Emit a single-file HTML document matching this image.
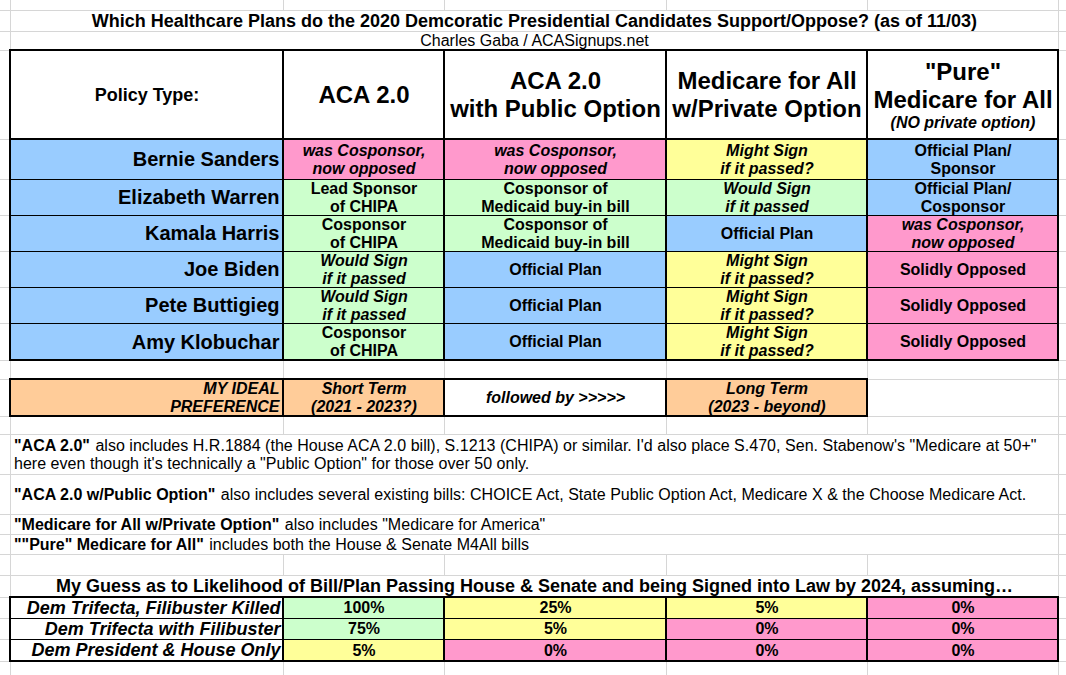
<!DOCTYPE html>
<html><head><meta charset="utf-8"><style>
html,body{margin:0;padding:0;background:#fff}
body{width:1066px;height:675px;position:relative;overflow:hidden;font-family:"Liberation Sans",sans-serif;color:#000}
body>div{position:absolute}
.t{white-space:pre;}
.note{letter-spacing:0.03px}
.note b{letter-spacing:0}
.sp{margin-left:1px}
</style></head><body>
<div style="left:10px;top:0px;width:1px;height:675px;background:#d6d6d6"></div>
<div style="left:283px;top:0px;width:1px;height:675px;background:#d6d6d6"></div>
<div style="left:444px;top:0px;width:1px;height:675px;background:#d6d6d6"></div>
<div style="left:666px;top:0px;width:1px;height:675px;background:#d6d6d6"></div>
<div style="left:867px;top:0px;width:1px;height:675px;background:#d6d6d6"></div>
<div style="left:1058px;top:0px;width:1px;height:675px;background:#d6d6d6"></div>
<div style="left:0px;top:10px;width:1066px;height:1px;background:#d6d6d6"></div>
<div style="left:0px;top:31px;width:1066px;height:1px;background:#d6d6d6"></div>
<div style="left:0px;top:50px;width:1066px;height:1px;background:#d6d6d6"></div>
<div style="left:0px;top:139px;width:1066px;height:1px;background:#d6d6d6"></div>
<div style="left:0px;top:179px;width:1066px;height:1px;background:#d6d6d6"></div>
<div style="left:0px;top:215px;width:1066px;height:1px;background:#d6d6d6"></div>
<div style="left:0px;top:251px;width:1066px;height:1px;background:#d6d6d6"></div>
<div style="left:0px;top:287px;width:1066px;height:1px;background:#d6d6d6"></div>
<div style="left:0px;top:323px;width:1066px;height:1px;background:#d6d6d6"></div>
<div style="left:0px;top:360px;width:1066px;height:1px;background:#d6d6d6"></div>
<div style="left:0px;top:379px;width:1066px;height:1px;background:#d6d6d6"></div>
<div style="left:0px;top:416px;width:1066px;height:1px;background:#d6d6d6"></div>
<div style="left:0px;top:434px;width:1066px;height:1px;background:#d6d6d6"></div>
<div style="left:0px;top:474px;width:1066px;height:1px;background:#d6d6d6"></div>
<div style="left:0px;top:514px;width:1066px;height:1px;background:#d6d6d6"></div>
<div style="left:0px;top:534px;width:1066px;height:1px;background:#d6d6d6"></div>
<div style="left:0px;top:554px;width:1066px;height:1px;background:#d6d6d6"></div>
<div style="left:0px;top:575px;width:1066px;height:1px;background:#d6d6d6"></div>
<div style="left:0px;top:597px;width:1066px;height:1px;background:#d6d6d6"></div>
<div style="left:0px;top:618px;width:1066px;height:1px;background:#d6d6d6"></div>
<div style="left:0px;top:639px;width:1066px;height:1px;background:#d6d6d6"></div>
<div style="left:0px;top:661px;width:1066px;height:1px;background:#d6d6d6"></div>
<div style="left:11px;top:11px;width:1047px;height:20px;background:#fff"></div>
<div style="left:11px;top:32px;width:1047px;height:18px;background:#fff"></div>
<div style="left:11px;top:435px;width:1047px;height:39px;background:#fff"></div>
<div style="left:11px;top:475px;width:1047px;height:39px;background:#fff"></div>
<div style="left:11px;top:515px;width:1047px;height:19px;background:#fff"></div>
<div style="left:11px;top:535px;width:1047px;height:19px;background:#fff"></div>
<div style="left:11px;top:576px;width:1047px;height:21px;background:#fff"></div>
<div style="left:11px;top:51px;width:1047px;height:88px;background:#fff"></div>
<div style="left:10px;top:139px;width:273px;height:40px;background:#99ccff"></div>
<div style="left:283px;top:139px;width:161px;height:40px;background:#ff99cc"></div>
<div style="left:444px;top:139px;width:222px;height:40px;background:#ff99cc"></div>
<div style="left:666px;top:139px;width:201px;height:40px;background:#ffff99"></div>
<div style="left:867px;top:139px;width:191px;height:40px;background:#99ccff"></div>
<div style="left:10px;top:179px;width:273px;height:36px;background:#99ccff"></div>
<div style="left:283px;top:179px;width:161px;height:36px;background:#ccffcc"></div>
<div style="left:444px;top:179px;width:222px;height:36px;background:#ccffcc"></div>
<div style="left:666px;top:179px;width:201px;height:36px;background:#ccffcc"></div>
<div style="left:867px;top:179px;width:191px;height:36px;background:#99ccff"></div>
<div style="left:10px;top:215px;width:273px;height:36px;background:#99ccff"></div>
<div style="left:283px;top:215px;width:161px;height:36px;background:#ccffcc"></div>
<div style="left:444px;top:215px;width:222px;height:36px;background:#ccffcc"></div>
<div style="left:666px;top:215px;width:201px;height:36px;background:#99ccff"></div>
<div style="left:867px;top:215px;width:191px;height:36px;background:#ff99cc"></div>
<div style="left:10px;top:251px;width:273px;height:36px;background:#99ccff"></div>
<div style="left:283px;top:251px;width:161px;height:36px;background:#ccffcc"></div>
<div style="left:444px;top:251px;width:222px;height:36px;background:#99ccff"></div>
<div style="left:666px;top:251px;width:201px;height:36px;background:#ffff99"></div>
<div style="left:867px;top:251px;width:191px;height:36px;background:#ff99cc"></div>
<div style="left:10px;top:287px;width:273px;height:36px;background:#99ccff"></div>
<div style="left:283px;top:287px;width:161px;height:36px;background:#ccffcc"></div>
<div style="left:444px;top:287px;width:222px;height:36px;background:#99ccff"></div>
<div style="left:666px;top:287px;width:201px;height:36px;background:#ffff99"></div>
<div style="left:867px;top:287px;width:191px;height:36px;background:#ff99cc"></div>
<div style="left:10px;top:323px;width:273px;height:37px;background:#99ccff"></div>
<div style="left:283px;top:323px;width:161px;height:37px;background:#ccffcc"></div>
<div style="left:444px;top:323px;width:222px;height:37px;background:#99ccff"></div>
<div style="left:666px;top:323px;width:201px;height:37px;background:#ffff99"></div>
<div style="left:867px;top:323px;width:191px;height:37px;background:#ff99cc"></div>
<div style="left:10px;top:379px;width:434px;height:37px;background:#ffcc99"></div>
<div style="left:444px;top:379px;width:222px;height:37px;background:#fff"></div>
<div style="left:666px;top:379px;width:201px;height:37px;background:#ffcc99"></div>
<div style="left:10px;top:597px;width:273px;height:21px;background:#fff"></div>
<div style="left:283px;top:597px;width:161px;height:21px;background:#ccffcc"></div>
<div style="left:444px;top:597px;width:222px;height:21px;background:#ffff99"></div>
<div style="left:666px;top:597px;width:201px;height:21px;background:#ffff99"></div>
<div style="left:867px;top:597px;width:191px;height:21px;background:#ff99cc"></div>
<div style="left:10px;top:618px;width:273px;height:21px;background:#fff"></div>
<div style="left:283px;top:618px;width:161px;height:21px;background:#ccffcc"></div>
<div style="left:444px;top:618px;width:222px;height:21px;background:#ffff99"></div>
<div style="left:666px;top:618px;width:201px;height:21px;background:#ff99cc"></div>
<div style="left:867px;top:618px;width:191px;height:21px;background:#ff99cc"></div>
<div style="left:10px;top:639px;width:273px;height:22px;background:#fff"></div>
<div style="left:283px;top:639px;width:161px;height:22px;background:#ffff99"></div>
<div style="left:444px;top:639px;width:222px;height:22px;background:#ff99cc"></div>
<div style="left:666px;top:639px;width:201px;height:22px;background:#ff99cc"></div>
<div style="left:867px;top:639px;width:191px;height:22px;background:#ff99cc"></div>
<div style="left:9px;top:49px;width:1050px;height:2px;background:#000"></div>
<div style="left:9px;top:138px;width:1050px;height:2px;background:#000"></div>
<div style="left:9px;top:359px;width:1050px;height:2px;background:#000"></div>
<div style="left:9px;top:179px;width:1050px;height:1px;background:#000"></div>
<div style="left:9px;top:215px;width:1050px;height:1px;background:#000"></div>
<div style="left:9px;top:251px;width:1050px;height:1px;background:#000"></div>
<div style="left:9px;top:287px;width:1050px;height:1px;background:#000"></div>
<div style="left:9px;top:323px;width:1050px;height:1px;background:#000"></div>
<div style="left:9px;top:49px;width:2px;height:312px;background:#000"></div>
<div style="left:282px;top:49px;width:2px;height:312px;background:#000"></div>
<div style="left:443px;top:49px;width:2px;height:312px;background:#000"></div>
<div style="left:665px;top:49px;width:2px;height:312px;background:#000"></div>
<div style="left:866px;top:49px;width:2px;height:312px;background:#000"></div>
<div style="left:1057px;top:49px;width:2px;height:312px;background:#000"></div>
<div style="left:9px;top:378px;width:859px;height:2px;background:#000"></div>
<div style="left:9px;top:415px;width:859px;height:2px;background:#000"></div>
<div style="left:9px;top:378px;width:2px;height:39px;background:#000"></div>
<div style="left:282px;top:378px;width:2px;height:39px;background:#000"></div>
<div style="left:443px;top:378px;width:2px;height:39px;background:#000"></div>
<div style="left:665px;top:378px;width:2px;height:39px;background:#000"></div>
<div style="left:866px;top:378px;width:2px;height:39px;background:#000"></div>
<div style="left:9px;top:596px;width:1050px;height:2px;background:#000"></div>
<div style="left:9px;top:660px;width:1050px;height:2px;background:#000"></div>
<div style="left:9px;top:618px;width:1050px;height:1px;background:#000"></div>
<div style="left:9px;top:639px;width:1050px;height:1px;background:#000"></div>
<div style="left:9px;top:596px;width:2px;height:66px;background:#000"></div>
<div style="left:282px;top:596px;width:2px;height:66px;background:#000"></div>
<div style="left:443px;top:596px;width:2px;height:66px;background:#000"></div>
<div style="left:665px;top:596px;width:2px;height:66px;background:#000"></div>
<div style="left:866px;top:596px;width:2px;height:66px;background:#000"></div>
<div style="left:1057px;top:596px;width:2px;height:66px;background:#000"></div>
<div class="t " style="left:10.5px;top:12px;width:1048px;font-size:18px;line-height:18px;text-align:center;font-weight:bold;">Which Healthcare Plans do the 2020 Demcoratic Presidential Candidates Support/Oppose? (as of 11/03)</div>
<div class="t " style="left:10.5px;top:33px;width:1048px;font-size:16px;line-height:16px;text-align:center;">Charles Gaba / ACASignups.net</div>
<div class="t " style="left:10.5px;top:86px;width:273px;font-size:18px;line-height:18px;text-align:center;font-weight:bold;">Policy Type:</div>
<div class="t " style="left:283.5px;top:83px;width:161px;font-size:24px;line-height:24px;text-align:center;font-weight:bold;">ACA 2.0</div>
<div class="t " style="left:444.5px;top:69px;width:222px;font-size:24px;line-height:24px;text-align:center;font-weight:bold;">ACA 2.0</div>
<div class="t " style="left:444.5px;top:97px;width:222px;font-size:24px;line-height:24px;text-align:center;font-weight:bold;">with Public Option</div>
<div class="t " style="left:666.5px;top:69px;width:201px;font-size:24px;line-height:24px;text-align:center;font-weight:bold;">Medicare for All</div>
<div class="t " style="left:666.5px;top:97px;width:201px;font-size:24px;line-height:24px;text-align:center;font-weight:bold;">w/Private Option</div>
<div class="t " style="left:867.5px;top:60px;width:191px;font-size:24px;line-height:24px;text-align:center;font-weight:bold;">"Pure"</div>
<div class="t " style="left:867.5px;top:88px;width:191px;font-size:24px;line-height:24px;text-align:center;font-weight:bold;">Medicare for All</div>
<div class="t " style="left:867.5px;top:115px;width:191px;font-size:16px;line-height:16px;text-align:center;font-weight:bold;font-style:italic;">(NO private option)</div>
<div class="t " style="left:10.5px;top:149px;width:269px;font-size:20px;line-height:20px;text-align:right;font-weight:bold;">Bernie Sanders</div>
<div class="t " style="left:10.5px;top:187px;width:269px;font-size:20px;line-height:20px;text-align:right;font-weight:bold;">Elizabeth Warren</div>
<div class="t " style="left:10.5px;top:223px;width:269px;font-size:20px;line-height:20px;text-align:right;font-weight:bold;">Kamala Harris</div>
<div class="t " style="left:10.5px;top:259px;width:269px;font-size:20px;line-height:20px;text-align:right;font-weight:bold;">Joe Biden</div>
<div class="t " style="left:10.5px;top:295px;width:269px;font-size:20px;line-height:20px;text-align:right;font-weight:bold;">Pete Buttigieg</div>
<div class="t " style="left:10.5px;top:332px;width:269px;font-size:20px;line-height:20px;text-align:right;font-weight:bold;">Amy Klobuchar</div>
<div class="t " style="left:283.5px;top:143px;width:161px;font-size:16px;line-height:16px;text-align:center;font-weight:bold;font-style:italic;">was Cosponsor,</div>
<div class="t " style="left:283.5px;top:161px;width:161px;font-size:16px;line-height:16px;text-align:center;font-weight:bold;font-style:italic;">now opposed</div>
<div class="t " style="left:283.5px;top:181px;width:161px;font-size:16px;line-height:16px;text-align:center;font-weight:bold;">Lead Sponsor</div>
<div class="t " style="left:283.5px;top:199px;width:161px;font-size:16px;line-height:16px;text-align:center;font-weight:bold;">of CHIPA</div>
<div class="t " style="left:283.5px;top:217px;width:161px;font-size:16px;line-height:16px;text-align:center;font-weight:bold;">Cosponsor</div>
<div class="t " style="left:283.5px;top:235px;width:161px;font-size:16px;line-height:16px;text-align:center;font-weight:bold;">of CHIPA</div>
<div class="t " style="left:283.5px;top:253px;width:161px;font-size:16px;line-height:16px;text-align:center;font-weight:bold;font-style:italic;">Would Sign</div>
<div class="t " style="left:283.5px;top:271px;width:161px;font-size:16px;line-height:16px;text-align:center;font-weight:bold;font-style:italic;">if it passed</div>
<div class="t " style="left:283.5px;top:289px;width:161px;font-size:16px;line-height:16px;text-align:center;font-weight:bold;font-style:italic;">Would Sign</div>
<div class="t " style="left:283.5px;top:307px;width:161px;font-size:16px;line-height:16px;text-align:center;font-weight:bold;font-style:italic;">if it passed</div>
<div class="t " style="left:283.5px;top:325px;width:161px;font-size:16px;line-height:16px;text-align:center;font-weight:bold;">Cosponsor</div>
<div class="t " style="left:283.5px;top:343px;width:161px;font-size:16px;line-height:16px;text-align:center;font-weight:bold;">of CHIPA</div>
<div class="t " style="left:444.5px;top:143px;width:222px;font-size:16px;line-height:16px;text-align:center;font-weight:bold;font-style:italic;">was Cosponsor,</div>
<div class="t " style="left:444.5px;top:161px;width:222px;font-size:16px;line-height:16px;text-align:center;font-weight:bold;font-style:italic;">now opposed</div>
<div class="t " style="left:444.5px;top:181px;width:222px;font-size:16px;line-height:16px;text-align:center;font-weight:bold;">Cosponsor of</div>
<div class="t " style="left:444.5px;top:199px;width:222px;font-size:16px;line-height:16px;text-align:center;font-weight:bold;">Medicaid buy-in bill</div>
<div class="t " style="left:444.5px;top:217px;width:222px;font-size:16px;line-height:16px;text-align:center;font-weight:bold;">Cosponsor of</div>
<div class="t " style="left:444.5px;top:235px;width:222px;font-size:16px;line-height:16px;text-align:center;font-weight:bold;">Medicaid buy-in bill</div>
<div class="t " style="left:444.5px;top:262px;width:222px;font-size:16px;line-height:16px;text-align:center;font-weight:bold;">Official Plan</div>
<div class="t " style="left:444.5px;top:298px;width:222px;font-size:16px;line-height:16px;text-align:center;font-weight:bold;">Official Plan</div>
<div class="t " style="left:444.5px;top:334px;width:222px;font-size:16px;line-height:16px;text-align:center;font-weight:bold;">Official Plan</div>
<div class="t " style="left:666.5px;top:143px;width:201px;font-size:16px;line-height:16px;text-align:center;font-weight:bold;font-style:italic;">Might Sign</div>
<div class="t " style="left:666.5px;top:161px;width:201px;font-size:16px;line-height:16px;text-align:center;font-weight:bold;font-style:italic;">if it passed?</div>
<div class="t " style="left:666.5px;top:181px;width:201px;font-size:16px;line-height:16px;text-align:center;font-weight:bold;font-style:italic;">Would Sign</div>
<div class="t " style="left:666.5px;top:199px;width:201px;font-size:16px;line-height:16px;text-align:center;font-weight:bold;font-style:italic;">if it passed</div>
<div class="t " style="left:666.5px;top:226px;width:201px;font-size:16px;line-height:16px;text-align:center;font-weight:bold;">Official Plan</div>
<div class="t " style="left:666.5px;top:253px;width:201px;font-size:16px;line-height:16px;text-align:center;font-weight:bold;font-style:italic;">Might Sign</div>
<div class="t " style="left:666.5px;top:271px;width:201px;font-size:16px;line-height:16px;text-align:center;font-weight:bold;font-style:italic;">if it passed?</div>
<div class="t " style="left:666.5px;top:289px;width:201px;font-size:16px;line-height:16px;text-align:center;font-weight:bold;font-style:italic;">Might Sign</div>
<div class="t " style="left:666.5px;top:307px;width:201px;font-size:16px;line-height:16px;text-align:center;font-weight:bold;font-style:italic;">if it passed?</div>
<div class="t " style="left:666.5px;top:325px;width:201px;font-size:16px;line-height:16px;text-align:center;font-weight:bold;font-style:italic;">Might Sign</div>
<div class="t " style="left:666.5px;top:343px;width:201px;font-size:16px;line-height:16px;text-align:center;font-weight:bold;font-style:italic;">if it passed?</div>
<div class="t " style="left:867.5px;top:143px;width:191px;font-size:16px;line-height:16px;text-align:center;font-weight:bold;">Official Plan/</div>
<div class="t " style="left:867.5px;top:161px;width:191px;font-size:16px;line-height:16px;text-align:center;font-weight:bold;">Sponsor</div>
<div class="t " style="left:867.5px;top:181px;width:191px;font-size:16px;line-height:16px;text-align:center;font-weight:bold;">Official Plan/</div>
<div class="t " style="left:867.5px;top:199px;width:191px;font-size:16px;line-height:16px;text-align:center;font-weight:bold;">Cosponsor</div>
<div class="t " style="left:867.5px;top:217px;width:191px;font-size:16px;line-height:16px;text-align:center;font-weight:bold;font-style:italic;">was Cosponsor,</div>
<div class="t " style="left:867.5px;top:235px;width:191px;font-size:16px;line-height:16px;text-align:center;font-weight:bold;font-style:italic;">now opposed</div>
<div class="t " style="left:867.5px;top:262px;width:191px;font-size:16px;line-height:16px;text-align:center;font-weight:bold;">Solidly Opposed</div>
<div class="t " style="left:867.5px;top:298px;width:191px;font-size:16px;line-height:16px;text-align:center;font-weight:bold;">Solidly Opposed</div>
<div class="t " style="left:867.5px;top:334px;width:191px;font-size:16px;line-height:16px;text-align:center;font-weight:bold;">Solidly Opposed</div>
<div class="t " style="left:10.5px;top:381px;width:269px;font-size:16px;line-height:16px;text-align:right;font-weight:bold;font-style:italic;">MY IDEAL</div>
<div class="t " style="left:10.5px;top:399px;width:269px;font-size:16px;line-height:16px;text-align:right;font-weight:bold;font-style:italic;">PREFERENCE</div>
<div class="t " style="left:283.5px;top:381px;width:161px;font-size:16px;line-height:16px;text-align:center;font-weight:bold;font-style:italic;">Short Term</div>
<div class="t " style="left:283.5px;top:399px;width:161px;font-size:16px;line-height:16px;text-align:center;font-weight:bold;font-style:italic;">(2021 - 2023?)</div>
<div class="t " style="left:444.5px;top:390px;width:222px;font-size:16px;line-height:16px;text-align:center;font-weight:bold;font-style:italic;">followed by &gt;&gt;&gt;&gt;&gt;</div>
<div class="t " style="left:666.5px;top:381px;width:201px;font-size:16px;line-height:16px;text-align:center;font-weight:bold;font-style:italic;">Long Term</div>
<div class="t " style="left:666.5px;top:399px;width:201px;font-size:16px;line-height:16px;text-align:center;font-weight:bold;font-style:italic;">(2023 - beyond)</div>
<div class="t note" style="left:14.0px;top:438px;width:1044px;font-size:16px;line-height:16px;text-align:left;"><b>"ACA 2.0"</b><span class="sp"> also includes H.R.1884 (the House ACA 2.0 bill), S.1213 (CHIPA) or similar. I'd also place S.470, Sen. Stabenow's "Medicare at 50+"</span></div>
<div class="t note" style="left:14.0px;top:456px;width:1044px;font-size:16px;line-height:16px;text-align:left;">here even though it's technically a "Public Option" for those over 50 only.</div>
<div class="t note" style="left:14.0px;top:487px;width:1044px;font-size:16px;line-height:16px;text-align:left;"><b>"ACA 2.0 w/Public Option"</b><span class="sp"> also includes several existing bills: CHOICE Act, State Public Option Act, Medicare X &amp; the Choose Medicare Act.</span></div>
<div class="t note" style="left:14.0px;top:517px;width:1044px;font-size:16px;line-height:16px;text-align:left;"><b>"Medicare for All w/Private Option"</b><span class="sp"> also includes "Medicare for America"</span></div>
<div class="t note" style="left:14.0px;top:537px;width:1044px;font-size:16px;line-height:16px;text-align:left;"><b>""Pure" Medicare for All"</b><span class="sp"> includes both the House &amp; Senate M4All bills</span></div>
<div class="t " style="left:10.5px;top:577px;width:1048px;font-size:18px;line-height:18px;text-align:center;font-weight:bold;">My Guess as to Likelihood of Bill/Plan Passing House &amp; Senate and being Signed into Law by 2024, assuming…</div>
<div class="t " style="left:10.5px;top:599px;width:270px;font-size:18px;line-height:18px;text-align:right;font-weight:bold;font-style:italic;">Dem Trifecta, Filibuster Killed</div>
<div class="t " style="left:10.5px;top:620px;width:270px;font-size:18px;line-height:18px;text-align:right;font-weight:bold;font-style:italic;">Dem Trifecta with Filibuster</div>
<div class="t " style="left:10.5px;top:641px;width:270px;font-size:18px;line-height:18px;text-align:right;font-weight:bold;font-style:italic;">Dem President &amp; House Only</div>
<div class="t " style="left:283.5px;top:600px;width:161px;font-size:16px;line-height:16px;text-align:center;font-weight:bold;">100%</div>
<div class="t " style="left:444.5px;top:600px;width:222px;font-size:16px;line-height:16px;text-align:center;font-weight:bold;">25%</div>
<div class="t " style="left:666.5px;top:600px;width:201px;font-size:16px;line-height:16px;text-align:center;font-weight:bold;">5%</div>
<div class="t " style="left:867.5px;top:600px;width:191px;font-size:16px;line-height:16px;text-align:center;font-weight:bold;">0%</div>
<div class="t " style="left:283.5px;top:621px;width:161px;font-size:16px;line-height:16px;text-align:center;font-weight:bold;">75%</div>
<div class="t " style="left:444.5px;top:621px;width:222px;font-size:16px;line-height:16px;text-align:center;font-weight:bold;">5%</div>
<div class="t " style="left:666.5px;top:621px;width:201px;font-size:16px;line-height:16px;text-align:center;font-weight:bold;">0%</div>
<div class="t " style="left:867.5px;top:621px;width:191px;font-size:16px;line-height:16px;text-align:center;font-weight:bold;">0%</div>
<div class="t " style="left:283.5px;top:643px;width:161px;font-size:16px;line-height:16px;text-align:center;font-weight:bold;">5%</div>
<div class="t " style="left:444.5px;top:643px;width:222px;font-size:16px;line-height:16px;text-align:center;font-weight:bold;">0%</div>
<div class="t " style="left:666.5px;top:643px;width:201px;font-size:16px;line-height:16px;text-align:center;font-weight:bold;">0%</div>
<div class="t " style="left:867.5px;top:643px;width:191px;font-size:16px;line-height:16px;text-align:center;font-weight:bold;">0%</div>
</body></html>
